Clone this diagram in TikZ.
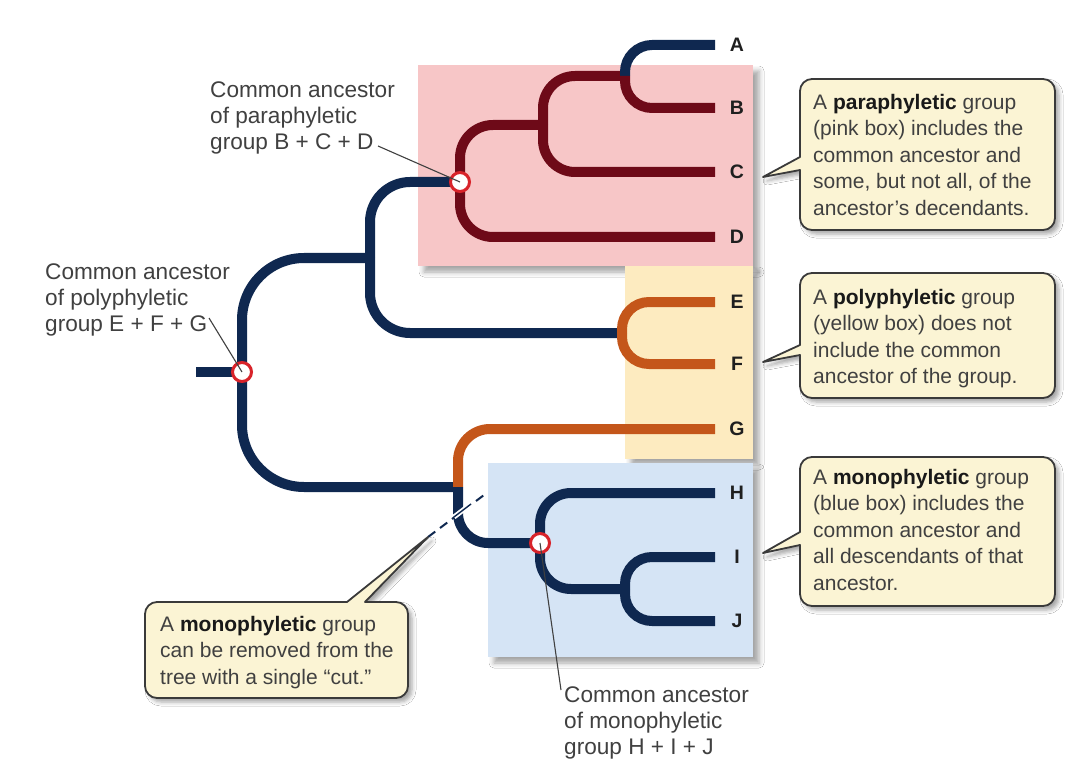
\documentclass[tikz,border=0pt]{standalone}
\usepackage{fontspec}
\setmainfont{Liberation Sans}
\usetikzlibrary{shadows.blur,calc}
\definecolor{navy}{HTML}{0F2850}
\definecolor{dred}{HTML}{6E0A18}
\definecolor{orng}{HTML}{C4561A}
\definecolor{pinkbox}{HTML}{F7C6C7}
\definecolor{yellowbox}{HTML}{FDEBC0}
\definecolor{bluebox}{HTML}{D5E4F5}
\definecolor{callfill}{HTML}{FBF4D4}
\definecolor{callborder}{HTML}{3A3A3A}
\definecolor{txt}{HTML}{404040}
\definecolor{ringred}{HTML}{D8232A}
\begin{document}
\begin{tikzpicture}[x=1pt,y=-1pt,
  branch/.style={line width=10pt, line cap=butt, line join=round},
  lbl/.style={font=\fontsize{22.6}{26}\selectfont, text=txt, align=left, inner sep=0pt, anchor=north west},
  note/.style={font=\fontsize{21}{26.5}\selectfont, text=txt, align=left, inner sep=0pt, anchor=north west},
  leaf/.style={font=\fontsize{19.5}{20}\selectfont\bfseries, text=black!88, inner sep=0pt},
  ring/.style={circle, draw=ringred, line width=3pt, fill=white, minimum size=19pt, inner sep=0pt},
  pointer/.style={draw=txt, line width=1.1pt},
  groupbox/.style={blur shadow={shadow xshift=6pt, shadow yshift=-6pt, shadow blur radius=5pt, shadow opacity=35}},
  callout/.style={fill=callfill, draw=callborder, line width=1.8pt, line join=round,
    blur shadow={shadow xshift=4pt, shadow yshift=-4pt, shadow blur radius=4pt, shadow opacity=35}}
]
\useasboundingbox (0,0) rectangle (1086,759);
\fill[white] (0,0) rectangle (1086,759);

% group boxes
\fill[pinkbox, groupbox] (418,65) rectangle (753,266);
\fill[yellowbox, groupbox] (625,266) rectangle (753,459);
\fill[bluebox, groupbox] (488,463) rectangle (753,657);

% internal nodes of the tree
\coordinate (s)   at (196,372);
\coordinate (r)   at (242,372);
\coordinate (n1)  at (370,258);
\coordinate (pa)  at (460,182);
\coordinate (n3)  at (543,125);
\coordinate (fab) at (625,76);
\coordinate (nef) at (622,333);
\coordinate (cut) at (458,487);
\coordinate (mo)  at (540,543);
\coordinate (fij) at (625,589);
% tips
\coordinate (Ae) at (715,45);
\coordinate (Be) at (715,108);
\coordinate (Ce) at (715,172);
\coordinate (De) at (715,237);
\coordinate (Ee) at (715,302);
\coordinate (Fe) at (715,364);
\coordinate (Ge) at (715,429);
\coordinate (He) at (715,493);
\coordinate (Ie) at (715,557);
\coordinate (Je) at (715,621);

% branches
\draw[branch, navy] (s) -- (r);
\draw[branch, navy, rounded corners=62pt] (r) |- (n1);
\draw[branch, navy, rounded corners=62pt] (r) |- (cut);
\draw[branch, navy, rounded corners=40pt] (n1) |- (pa);
\draw[branch, navy, rounded corners=40pt] (n1) |- (nef);
\draw[branch, dred, rounded corners=33pt] (pa) |- (n3);
\draw[branch, dred, rounded corners=33pt] (pa) |- (De);
\draw[branch, dred, rounded corners=32pt] (n3) |- (fab);
\draw[branch, dred, rounded corners=32pt] (n3) |- (Ce);
\draw[branch, navy, rounded corners=27pt] (fab) |- (Ae);
\draw[branch, dred, rounded corners=27pt] (fab) |- (Be);
\draw[branch, orng, rounded corners=27pt] (nef) |- (Ee);
\draw[branch, orng, rounded corners=27pt] (nef) |- (Fe);
\draw[branch, orng, rounded corners=32pt] (cut) |- (Ge);
\draw[branch, navy, rounded corners=30pt] (cut) |- (mo);
\draw[branch, navy, rounded corners=31pt] (mo) |- (He);
\draw[branch, navy, rounded corners=31pt] (mo) |- (fij);
\draw[branch, navy, rounded corners=27pt] (fij) |- (Ie);
\draw[branch, navy, rounded corners=27pt] (fij) |- (Je);

% tip labels
\foreach \t/\y in {A/45,B/108,C/172,D/237,E/302,F/364,G/429,H/493,I/557,J/621}
  \node[leaf] (\t) at (737,\y) {\t};

% ancestor markers
\node[ring] (rootring) at (r) {};
\node[ring] (paring) at (pa) {};
\node[ring] (moring) at (mo) {};

% ancestor labels and their pointers
\node[lbl] (palbl) at (210,82) {Common ancestor\\of paraphyletic\\group B + C + D};
\node[lbl] (polbl) at (45,264) {Common ancestor\\of polyphyletic\\group E + F + G};
\node[lbl] (molbl) at (564,687) {Common ancestor\\of monophyletic\\group H + I + J};
\coordinate (paend) at ($(palbl.north west)+(168,64)$);
\coordinate (poend) at ($(polbl.north west)+(164,54)$);
\coordinate (moend) at ($(molbl.north west)+(-3,3)$);
\draw[pointer] (paend) -- (paring.center);
\draw[pointer] (poend) -- (rootring.center);
\draw[pointer] (moend) -- (moring.center);

% the single cut
\coordinate (cuttip) at (428,537);
\coordinate (cutend) at (484,495);
\draw[navy, line width=2pt, dash pattern=on 9pt off 6pt] (cuttip) -- (cutend);
\draw[white, line width=5pt] (454,517) -- (471,504);
\draw[navy, line width=1.4pt] (454,517) -- (471,504);

% callouts
\draw[callout] (800,157) [rounded corners=12pt] -- (800,79) -- (1055,79) -- (1055,230) -- (800,230) [sharp corners] -- (800,170) -- (763,177) -- cycle;
\node[note] (panote) at (813,94) {A \textbf{\color{black!90}paraphyletic} group\\(pink box) includes the\\common ancestor and\\some, but not all, of the\\ancestor’s decendants.};

\draw[callout] (800,345) [rounded corners=12pt] -- (800,273) -- (1055,273) -- (1055,398) -- (800,398) [sharp corners] -- (800,355) -- (763,362) -- cycle;
\node[note] (ponote) at (813,289) {A \textbf{\color{black!90}polyphyletic} group\\(yellow box) does not\\include the common\\ancestor of the group.};

\draw[callout] (800,532) [rounded corners=12pt] -- (800,457) -- (1055,457) -- (1055,606) -- (800,606) [sharp corners] -- (800,545) -- (763,553) -- cycle;
\node[note] (monote) at (813,469) {A \textbf{\color{black!90}monophyletic} group\\(blue box) includes the\\common ancestor and\\all descendants of that\\ancestor.};

\draw[callout] (365,602) [rounded corners=12pt] -- (408,602) -- (408,698) -- (145,698) -- (145,602) [sharp corners] -- (347,602) -- (cuttip) -- cycle;
\node[note] (cutnote) at (160,616) {A \textbf{\color{black!90}monophyletic} group\\can be removed from the\\tree with a single “cut.”};
\end{tikzpicture}
\end{document}
